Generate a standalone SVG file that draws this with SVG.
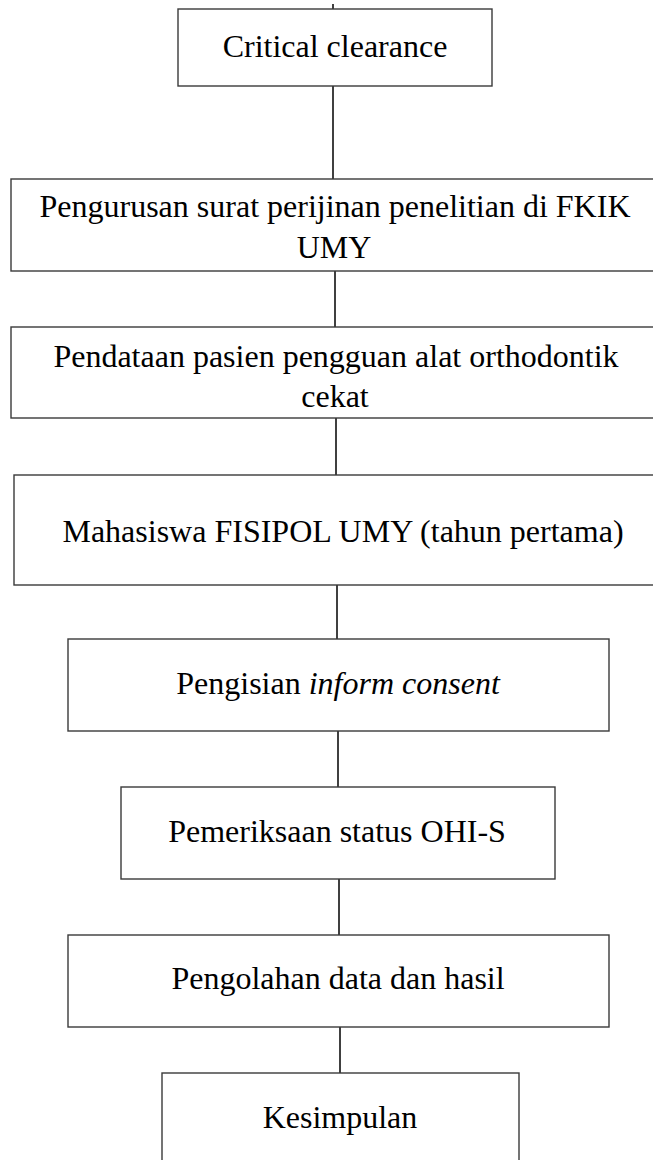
<svg xmlns="http://www.w3.org/2000/svg" width="653" height="1160" viewBox="0 0 653 1160">
<style>
.box{fill:#fff;stroke:#3a3a3a;stroke-width:1.4}
.t{font-family:"Liberation Serif","Times New Roman",serif;font-size:32px;fill:#000;text-anchor:middle}
.i{font-style:italic}
.c{stroke:#000;stroke-width:1.5;fill:none}
</style>
<rect width="653" height="1160" fill="#fff"/>
<g id="connectors">
<line class="c" x1="333" y1="4" x2="333" y2="9"/>
<line class="c" x1="333" y1="86" x2="333" y2="179"/>
<line class="c" x1="335" y1="271" x2="335" y2="327"/>
<line class="c" x1="336" y1="418" x2="336" y2="475"/>
<line class="c" x1="337" y1="585" x2="337" y2="639"/>
<line class="c" x1="338" y1="731" x2="338" y2="787"/>
<line class="c" x1="339" y1="879" x2="339" y2="935"/>
<line class="c" x1="340" y1="1027" x2="340" y2="1073"/>
</g>
<g id="n1">
<rect class="box" x="178" y="9" width="314" height="77"/>
<text class="t" x="335" y="57">Critical clearance</text>
</g>
<g id="n2">
<rect class="box" x="11" y="179" width="660" height="92"/>
<text class="t" x="335" y="217">Pengurusan surat perijinan penelitian di FKIK</text>
<text class="t" x="334" y="258">UMY</text>
</g>
<g id="n3">
<rect class="box" x="11" y="327" width="660" height="91"/>
<text class="t" x="336" y="367">Pendataan pasien pengguan alat orthodontik</text>
<text class="t" x="335" y="407">cekat</text>
</g>
<g id="n4">
<rect class="box" x="14" y="475" width="660" height="110"/>
<text class="t" x="343" y="542">Mahasiswa FISIPOL UMY (tahun pertama)</text>
</g>
<g id="n5">
<rect class="box" x="68" y="639" width="541" height="92"/>
<text class="t" x="338" y="694">Pengisian <tspan class="i">inform consent</tspan></text>
</g>
<g id="n6">
<rect class="box" x="121" y="787" width="434" height="92"/>
<text class="t" x="337" y="842">Pemeriksaan status OHI-S</text>
</g>
<g id="n7">
<rect class="box" x="68" y="935" width="541" height="92"/>
<text class="t" x="338" y="989">Pengolahan data dan hasil</text>
</g>
<g id="n8">
<rect class="box" x="162" y="1073" width="357" height="120"/>
<text class="t" x="340" y="1128">Kesimpulan</text>
</g>
</svg>
